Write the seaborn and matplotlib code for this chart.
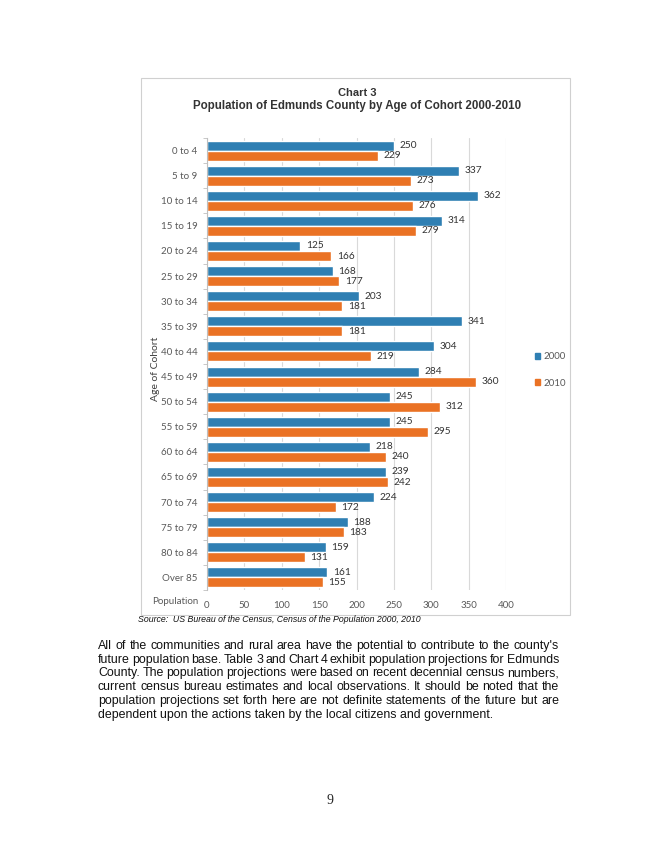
import numpy as np
import pandas as pd
import matplotlib.pyplot as plt
import seaborn as sns
from matplotlib.patches import Rectangle, Patch

cohorts = ['0 to 4', '5 to 9', '10 to 14', '15 to 19', '20 to 24', '25 to 29',
           '30 to 34', '35 to 39', '40 to 44', '45 to 49', '50 to 54', '55 to 59',
           '60 to 64', '65 to 69', '70 to 74', '75 to 79', '80 to 84', 'Over 85']
pop_2000 = [250, 337, 362, 314, 125, 168, 203, 341, 304, 284, 245, 245, 218, 239, 224, 188, 159, 161]
pop_2010 = [229, 273, 276, 279, 166, 177, 181, 181, 219, 360, 312, 295, 240, 242, 172, 183, 131, 155]
years = ['2000', '2010']
x_ticks = [0, 50, 100, 150, 200, 250, 300, 350, 400]

paragraph = [
    "All of the communities and rural area have the potential to contribute to the county's",
    "future population base. Table 3 and Chart 4 exhibit population projections for Edmunds",
    "County. The population projections were based on recent decennial census numbers,",
    "current census bureau estimates and local observations.  It should be noted that the",
    "population projections set forth here are not definite statements of the future but are",
    "dependent upon the actions taken by the local citizens and government.",
]

df = pd.DataFrame({'cohort': cohorts * 2,
                   'pop': pop_2000 + pop_2010,
                   'year': [years[0]] * len(cohorts) + [years[1]] * len(cohorts)})

sns.set_style('white')
plt.rcParams['font.family'] = ['Lato', 'DejaVu Sans']
colors = ['#2f7fb3', '#ea7224']

W, H = 658, 850
fig = plt.figure(figsize=(W / 100, H / 100), dpi=100)

# chart frame
fig.patches.append(Rectangle((141 / W, 1 - 615 / H), (570 - 141) / W, (615 - 78) / H,
                             transform=fig.transFigure, fill=False, ec='#d0d0d0', lw=0.8))

ax = fig.add_axes([207 / W, 1 - 590 / H, (506 - 207) / W, (590 - 138) / H])
sns.barplot(data=df, y='cohort', x='pop', hue='year', orient='h', palette=colors,
            width=0.8, ax=ax, legend=False, saturation=1)
for c in ax.containers:
    ax.bar_label(c, padding=4, fontsize=7.3, color='#333333')

ax.set_xlim(0, 400)
ax.set_xticks(x_ticks)
ax.set_yticks(np.arange(len(cohorts) + 1) - 0.5, minor=True)
ax.tick_params(axis='x', labelsize=7, colors='#595959', length=0, pad=8)
ax.tick_params(axis='y', which='major', labelsize=7, colors='#595959', length=0, pad=7)
ax.tick_params(axis='y', which='minor', length=3, left=True, width=0.6, color='#bfbfbf')
ax.xaxis.grid(True, color='#d9d9d9', lw=0.8)
ax.set_axisbelow(True)
for s in ['top', 'right', 'bottom']:
    ax.spines[s].set_visible(False)
ax.spines['left'].set_color('#bfbfbf')
ax.set_xlabel('')
ax.set_ylabel('Age of Cohort', fontsize=7.5, color='#404040')
ax.yaxis.set_label_coords(-0.157, 0.49)
fig.text(175 / W, 1 - 601 / H, 'Population', fontsize=7, color='#595959', ha='center', va='center')

handles = [Patch(color=colors[0], label=years[0]), Patch(color=colors[1], label=years[1])]
fig.legend(handles=handles, loc='center left', bbox_to_anchor=(526 / W, 1 - 370 / H),
           frameon=False, fontsize=7, handlelength=0.55, handleheight=0.55,
           handletextpad=0.3, labelspacing=1.8, labelcolor='#595959')

fig.text(357 / W, 1 - 93 / H, 'Chart 3', fontsize=8, fontweight='bold', color='#333333',
         ha='center', va='center', family='Liberation Sans')
fig.text(357 / W, 1 - 106 / H, 'Population of Edmunds County by Age of Cohort 2000-2010',
         fontsize=8.3, fontweight='bold', color='#333333', ha='center', va='center',
         family='Liberation Sans')

fig.text(138 / W, 1 - 619 / H, 'Source:  US Bureau of the Census, Census of the Population 2000, 2010',
         fontsize=6.3, style='italic', color='#111111', ha='left', va='center',
         family='Liberation Sans')

# justified paragraph
x0, x1 = 98, 559
y = 649
renderer = fig.canvas.get_renderer()
for i, line in enumerate(paragraph):
    words = line.split()
    kw = dict(fontsize=8.9, family='Liberation Sans', color='#111111', va='baseline', ha='left')
    if i == len(paragraph) - 1:
        fig.text(x0 / W, 1 - y / H, line, **kw)
    else:
        arts = [fig.text(0, 1 - y / H, w, **kw) for w in words]
        widths = [a.get_window_extent(renderer).width for a in arts]
        gap = (x1 - x0 - sum(widths)) / (len(words) - 1)
        xx = x0
        for a, wd in zip(arts, widths):
            a.set_x(xx / W)
            xx += wd + gap
    y += 13.7

fig.text(330 / W, 1 - 800 / H, '9', fontsize=10, family='Liberation Serif', ha='center', va='center')

fig.savefig('out.png', dpi=100)
